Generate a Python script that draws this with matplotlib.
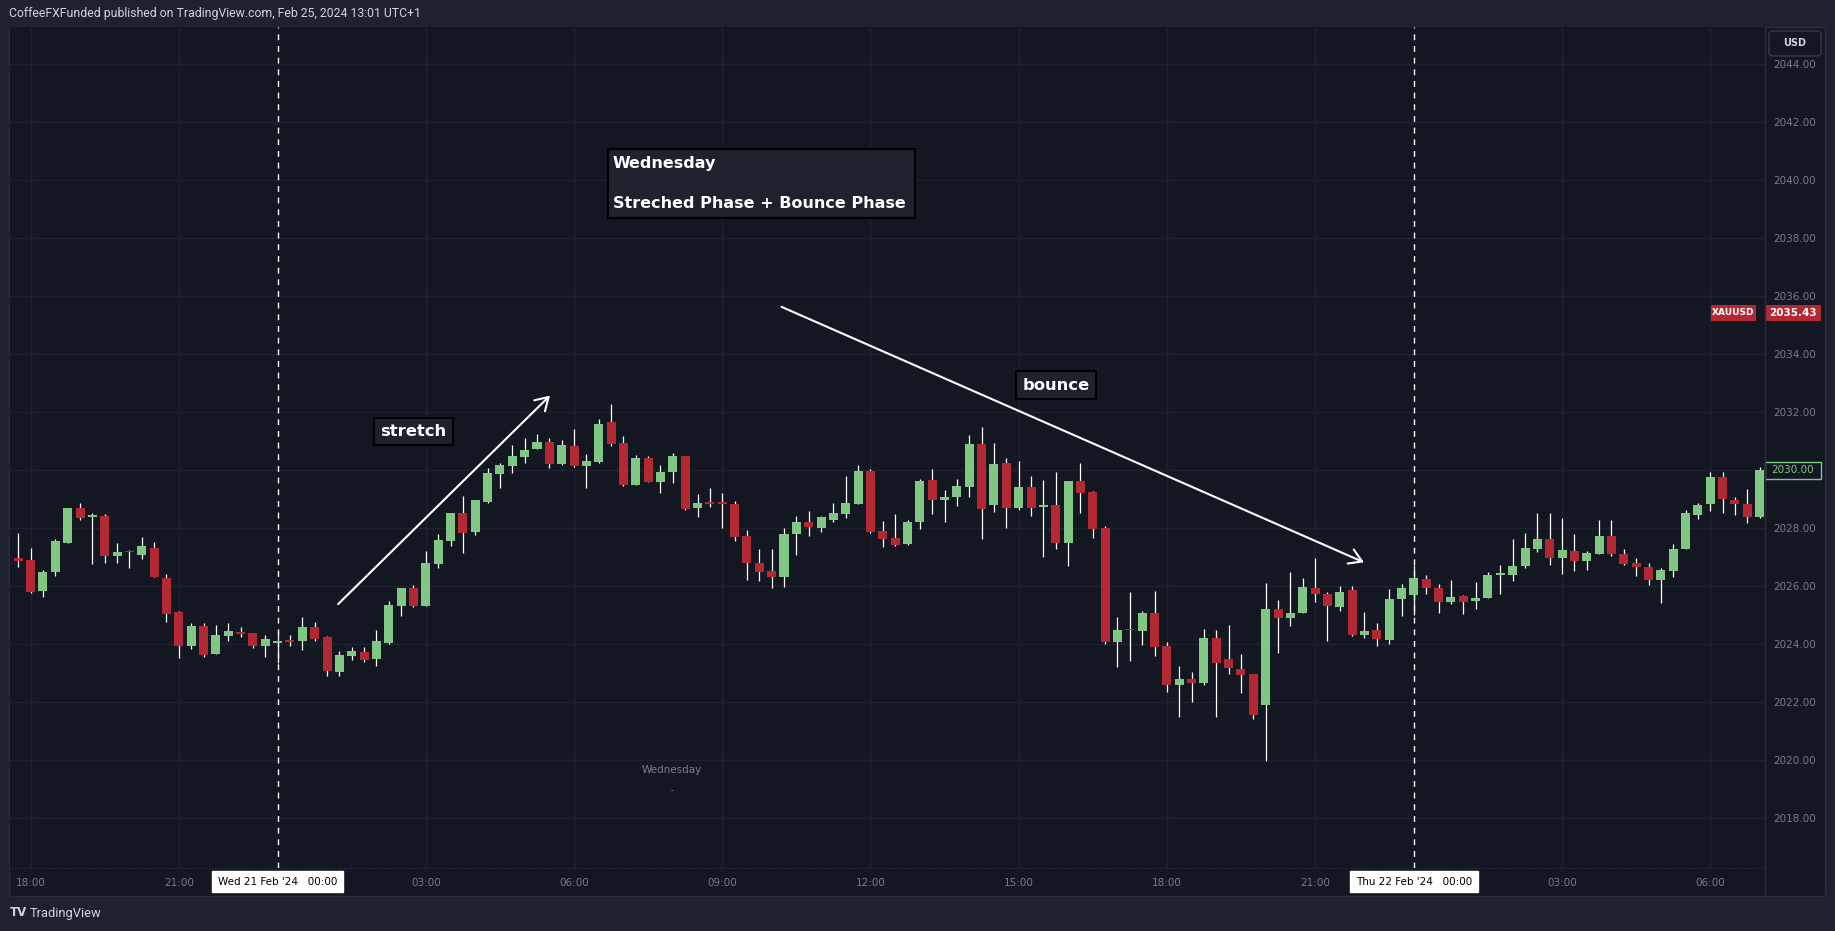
import matplotlib.pyplot as plt
from matplotlib.patches import Rectangle, FancyArrowPatch, FancyBboxPatch
from matplotlib.transforms import blended_transform_factory

# XAUUSD 15m, 20 Feb 17:45 -> 22 Feb 07:00 (bar index 0..141)
opens = [2026.98, 2026.91, 2025.84, 2026.49, 2027.49, 2028.70, 2028.40, 2028.43, 2027.06, 2027.22,
         2027.08, 2027.32, 2026.29, 2025.11, 2023.95, 2024.63, 2023.68, 2024.30, 2024.43, 2024.39,
         2023.95, 2024.06, 2024.15, 2024.13, 2024.60, 2024.25, 2023.06, 2023.60, 2023.74, 2023.51,
         2024.06, 2025.33, 2025.94, 2025.33, 2026.78, 2027.57, 2028.53, 2027.89, 2028.92, 2029.89,
         2030.16, 2030.47, 2030.75, 2030.98, 2030.23, 2030.84, 2030.16, 2030.30, 2031.67, 2030.94,
         2029.49, 2030.43, 2029.60, 2029.94, 2030.49, 2028.70, 2028.87, 2028.87, 2028.84, 2027.74,
         2026.80, 2026.53, 2026.32, 2027.80, 2028.22, 2028.01, 2028.29, 2028.49, 2028.84, 2029.98,
         2027.91, 2027.67, 2027.46, 2028.22, 2029.67, 2028.98, 2029.08, 2029.43, 2030.91, 2028.80,
         2030.25, 2028.70, 2029.43, 2028.75, 2028.80, 2027.49, 2029.63, 2029.25, 2028.01, 2024.08,
         2024.50, 2024.47, 2025.08, 2023.94, 2022.61, 2022.80, 2022.67, 2024.22, 2023.49, 2023.15,
         2022.98, 2021.92, 2025.22, 2024.91, 2025.08, 2025.94, 2025.74, 2025.29, 2025.87, 2024.32,
         2024.49, 2024.15, 2025.56, 2025.70, 2026.25, 2025.94, 2025.46, 2025.67, 2025.49, 2025.60,
         2026.40, 2026.39, 2026.70, 2027.29, 2027.63, 2026.98, 2027.22, 2026.87, 2027.11, 2027.74,
         2027.11, 2026.80, 2026.67, 2026.22, 2026.53, 2027.29, 2028.46, 2028.84, 2029.77, 2028.98,
         2028.84, 2028.39]
highs = [2027.84, 2027.32, 2026.56, 2027.63, 2028.70, 2028.87, 2028.53, 2028.49, 2027.49, 2027.25,
         2027.70, 2027.53, 2026.43, 2025.15, 2024.74, 2024.74, 2024.67, 2024.74, 2024.60, 2024.39,
         2024.32, 2024.46, 2024.32, 2024.94, 2024.77, 2024.29, 2023.77, 2023.91, 2023.91, 2024.49,
         2025.49, 2025.94, 2026.05, 2027.22, 2027.80, 2028.53, 2029.11, 2028.98, 2030.08, 2030.25,
         2030.87, 2031.11, 2031.25, 2031.11, 2031.05, 2031.43, 2030.56, 2031.77, 2032.29, 2031.18,
         2030.53, 2030.49, 2030.18, 2030.60, 2030.49, 2029.18, 2029.39, 2029.22, 2028.94, 2027.94,
         2027.29, 2027.29, 2028.01, 2028.43, 2028.60, 2028.43, 2028.87, 2029.80, 2030.18, 2030.05,
         2028.25, 2028.49, 2028.29, 2029.70, 2030.05, 2029.32, 2029.70, 2031.22, 2031.49, 2030.94,
         2030.43, 2030.32, 2029.80, 2029.67, 2029.94, 2029.63, 2030.25, 2029.29, 2028.08, 2024.94,
         2025.80, 2025.15, 2025.84, 2024.08, 2023.25, 2023.06, 2024.53, 2024.49, 2024.67, 2023.67,
         2022.98, 2026.11, 2025.53, 2026.49, 2026.29, 2026.98, 2025.80, 2026.01, 2026.01, 2025.11,
         2024.74, 2025.91, 2026.08, 2026.74, 2026.39, 2026.08, 2026.22, 2025.70, 2026.15, 2026.49,
         2026.74, 2027.63, 2027.84, 2028.53, 2028.53, 2028.36, 2027.80, 2027.22, 2028.29, 2028.29,
         2027.29, 2026.98, 2026.80, 2026.63, 2027.46, 2028.63, 2028.87, 2029.94, 2029.94, 2029.08,
         2029.36, 2030.11]
lows = [2026.68, 2025.78, 2025.64, 2026.36, 2027.49, 2028.29, 2026.77, 2026.80, 2026.80, 2026.63,
        2026.94, 2026.32, 2024.77, 2023.54, 2023.85, 2023.57, 2023.68, 2024.13, 2024.25, 2023.89,
        2023.57, 2023.37, 2023.95, 2023.82, 2024.13, 2022.92, 2022.92, 2023.47, 2023.40, 2023.26,
        2024.02, 2024.99, 2025.30, 2025.33, 2026.64, 2027.40, 2027.16, 2027.78, 2028.89, 2029.40,
        2029.92, 2030.26, 2030.75, 2030.09, 2030.20, 2030.13, 2029.40, 2030.26, 2030.85, 2029.46,
        2029.49, 2029.60, 2029.22, 2029.56, 2028.63, 2028.39, 2028.74, 2028.01, 2027.56, 2026.22,
        2026.18, 2025.94, 2025.98, 2027.08, 2027.74, 2027.87, 2028.22, 2028.36, 2028.84, 2027.84,
        2027.36, 2027.39, 2027.43, 2027.98, 2028.49, 2028.22, 2028.77, 2029.08, 2027.63, 2028.56,
        2028.01, 2028.63, 2028.43, 2027.01, 2027.29, 2026.70, 2028.53, 2027.67, 2024.02, 2023.23,
        2023.44, 2023.98, 2023.61, 2022.37, 2021.51, 2022.02, 2022.60, 2021.51, 2022.99, 2022.33,
        2021.44, 2019.99, 2023.71, 2024.63, 2025.08, 2025.46, 2024.11, 2025.15, 2024.29, 2024.22,
        2023.94, 2024.01, 2024.98, 2025.01, 2025.74, 2025.08, 2025.39, 2025.05, 2025.22, 2025.60,
        2025.74, 2026.18, 2026.63, 2027.18, 2026.74, 2026.43, 2026.53, 2026.56, 2027.11, 2027.05,
        2026.74, 2026.36, 2026.05, 2025.43, 2026.32, 2027.29, 2028.32, 2028.60, 2028.53, 2028.46,
        2028.18, 2028.36]
closes = [2026.89, 2025.80, 2026.49, 2027.56, 2028.70, 2028.37, 2028.42, 2027.06, 2027.18, 2027.18,
          2027.39, 2026.32, 2025.06, 2023.95, 2024.63, 2023.64, 2024.32, 2024.46, 2024.37, 2023.95,
          2024.18, 2024.11, 2024.09, 2024.60, 2024.20, 2023.09, 2023.63, 2023.77, 2023.47, 2024.11,
          2025.36, 2025.94, 2025.33, 2026.80, 2027.60, 2028.53, 2027.85, 2028.98, 2029.91, 2030.18,
          2030.49, 2030.70, 2030.98, 2030.23, 2030.87, 2030.16, 2030.32, 2031.60, 2030.92, 2029.49,
          2030.43, 2029.60, 2029.94, 2030.49, 2028.67, 2028.87, 2028.85, 2028.85, 2027.70, 2026.80,
          2026.49, 2026.32, 2027.80, 2028.22, 2028.05, 2028.39, 2028.53, 2028.87, 2029.98, 2027.87,
          2027.63, 2027.43, 2028.22, 2029.63, 2028.98, 2029.08, 2029.46, 2030.91, 2028.67, 2030.22,
          2028.70, 2029.43, 2028.70, 2028.77, 2027.49, 2029.63, 2029.22, 2027.98, 2024.08, 2024.49,
          2024.48, 2025.08, 2023.92, 2022.61, 2022.80, 2022.67, 2024.22, 2023.37, 2023.20, 2022.95,
          2021.57, 2025.22, 2024.91, 2025.08, 2025.98, 2025.74, 2025.32, 2025.80, 2024.32, 2024.46,
          2024.18, 2025.56, 2025.94, 2026.29, 2025.94, 2025.46, 2025.63, 2025.46, 2025.60, 2026.39,
          2026.43, 2026.70, 2027.32, 2027.63, 2026.98, 2027.25, 2026.87, 2027.15, 2027.74, 2027.11,
          2026.77, 2026.67, 2026.22, 2026.56, 2027.29, 2028.53, 2028.80, 2029.77, 2029.01, 2028.84,
          2028.39, 2030.00]

tick_pos = [1, 13, 33, 45, 57, 69, 81, 93, 105, 125, 137]
tick_labels = ['18:00', '21:00', '03:00', '06:00', '09:00', '12:00', '15:00', '18:00', '21:00', '03:00', '06:00']
day_pos = [21, 113]
day_labels = ["Wed 21 Feb '24   00:00", "Thu 22 Feb '24   00:00"]
price_ticks = [2018, 2020, 2022, 2024, 2026, 2028, 2030, 2032, 2034, 2036, 2038, 2040, 2042, 2044]

other_price = 2035.43   # XAUUSD tag on the scale
last_price = closes[-1]

# drawings (bar index, price)
stretch_arrow = [(25.9, 2025.39), (43.05, 2032.58)]
bounce_arrow = [(61.8, 2035.64), (108.96, 2026.83)]
stretch_label = (32.0, 2031.34)
bounce_label = (84.0, 2032.94)
note_corner = (47.75, 2038.70)
note_size = (24.85, 2.38)
note_lines = ['Wednesday', 'Streched Phase + Bounce Phase']
session_label = (52.9, 2019.67)

BG = '#131722'
FRAME = '#1e222d'
GRID = '#1e2230'
TXT = '#787b86'
UP = '#81c784'
DOWN = '#b22833'

W, H = 1835, 931
fig = plt.figure(figsize=(W / 100, H / 100), dpi=100)
fig.patch.set_facecolor(FRAME)

# chart panel
fig.add_artist(Rectangle((9 / W, 1 - 896 / H), 1816 / W, 869 / H, transform=fig.transFigure,
                         fc=BG, ec='#2a2e39', lw=1, zorder=0))

ax = fig.add_axes([10 / W, 1 - 868 / H, 1755 / W, 841 / H])
ax.set_facecolor(BG)
ax.set_xlim(-0.67, 141.43)
ax.set_ylim(2016.29, 2045.29)
for s in ax.spines.values():
    s.set_visible(False)

ax.set_yticks(price_ticks)
ax.set_yticklabels(['%.2f' % p for p in price_ticks])
ax.yaxis.tick_right()
ax.set_xticks(tick_pos)
ax.set_xticklabels(tick_labels)
ax.tick_params(axis='y', length=0, pad=6, labelsize=7.5, labelcolor=TXT)
ax.tick_params(axis='x', length=0, pad=7, labelsize=7.5, labelcolor=TXT)
ax.grid(True, color=GRID, lw=1)
ax.set_axisbelow(True)

# candles
x = list(range(len(opens)))
colors = [UP if c >= o else DOWN for o, c in zip(opens, closes)]
bottoms = [min(o, c) for o, c in zip(opens, closes)]
heights = [max(abs(c - o), 0.05) for o, c in zip(opens, closes)]
ax.vlines(x, lows, highs, color='white', lw=0.9, zorder=2)
ax.bar(x, heights, bottom=bottoms, width=0.73, color=colors, zorder=3)

# session breaks
for p, lab in zip(day_pos, day_labels):
    ax.axvline(p, color='white', lw=1, ls=(0, (4.2, 4.2)), zorder=1)
    ax.text(p, -0.0163, lab, transform=blended_transform_factory(ax.transData, ax.transAxes),
            ha='center', va='center', fontsize=7.5, color='black', clip_on=False,
            bbox=dict(boxstyle='square,pad=0.55', fc='white', ec='white'))

# arrows
for a in (stretch_arrow, bounce_arrow):
    ax.add_patch(FancyArrowPatch(a[0], a[1], arrowstyle='->,head_length=0.9,head_width=0.55',
                                 mutation_scale=10, color='white', lw=1.5, shrinkA=0, shrinkB=0,
                                 zorder=6))

box = dict(boxstyle='square,pad=0.38', fc='#1e222d', ec='black', lw=1.5)
ax.text(stretch_label[0], stretch_label[1], 'stretch', ha='center', va='center',
        fontsize=11.8, fontweight='bold', color='white', bbox=box, zorder=7)
ax.text(bounce_label[0], bounce_label[1], 'bounce', ha='center', va='center',
        fontsize=11.8, fontweight='bold', color='white', bbox=box, zorder=7)

ax.add_patch(Rectangle(note_corner, note_size[0], note_size[1], fc='#1e222d', ec='black',
                       lw=1.5, zorder=7))
ax.text(note_corner[0] + 0.4, note_corner[1] + note_size[1] * 0.79, note_lines[0],
        ha='left', va='center', fontsize=11.5, fontweight='bold', color='white', zorder=8)
ax.text(note_corner[0] + 0.4, note_corner[1] + note_size[1] * 0.21, note_lines[1],
        ha='left', va='center', fontsize=11.5, fontweight='bold', color='white', zorder=8)

ax.text(session_label[0], session_label[1], 'Wednesday', ha='center', va='center',
        fontsize=7.5, color=TXT)
ax.text(session_label[0], session_label[1] - 0.7, '-', ha='center', va='center',
        fontsize=6, color=TXT)

# price scale tags
bt = blended_transform_factory(fig.transFigure, ax.transData)
ax.add_patch(Rectangle((1711 / W, other_price - 0.29), 45 / W, 0.58, transform=bt,
                       fc=DOWN, ec='none', clip_on=False, zorder=8))
ax.text(1733.5 / W, other_price, 'XAUUSD', transform=bt, ha='center', va='center',
        fontsize=6.5, fontweight='bold', color='white', clip_on=False, zorder=9)
ax.add_patch(Rectangle((1765 / W, other_price - 0.29), 56 / W, 0.58, transform=bt,
                       fc=DOWN, ec='none', clip_on=False, zorder=8))
ax.text(1793 / W, other_price, '%.2f' % other_price, transform=bt, ha='center', va='center',
        fontsize=7.5, fontweight='bold', color='white', clip_on=False, zorder=9)
ax.add_patch(Rectangle((1765 / W, last_price - 0.28), 56 / W, 0.56, transform=bt,
                       fc=BG, ec=UP, lw=1, clip_on=False, zorder=8))
ax.text(1793 / W, last_price, '%.2f' % last_price, transform=bt, ha='center', va='center',
        fontsize=7.5, color=UP, clip_on=False, zorder=9)

# axis separators
fig.add_artist(plt.Line2D([1765 / W, 1765 / W], [1 - 896 / H, 1 - 27 / H], color='#2a2e39', lw=1))
fig.add_artist(plt.Line2D([10 / W, 1765 / W], [1 - 868 / H, 1 - 868 / H], color='#2a2e39', lw=0.8,
                          ls=(0, (1, 1))))

# USD button
fig.add_artist(FancyBboxPatch((1769 / W, 1 - 56 / H), 52 / W, 25 / H, transform=fig.transFigure,
                              boxstyle='round,pad=0,rounding_size=0.003', fc=BG, ec='#363a45',
                              lw=1, zorder=5))
fig.text(1795 / W, 1 - 43.5 / H, 'USD', ha='center', va='center', fontsize=7,
         fontweight='bold', color='#d1d4dc', zorder=6)

fig.text(9 / W, 1 - 14 / H, 'CoffeeFXFunded published on TradingView.com, Feb 25, 2024 13:01 UTC+1',
         ha='left', va='center', fontsize=8.8, color='#d1d4dc', family='Roboto')
fig.text(10 / W, 1 - 913 / H, 'TV', ha='left', va='center', fontsize=8.5, fontweight='heavy',
         color='#d1d4dc')
fig.text(30 / W, 1 - 913 / H, 'TradingView', ha='left', va='center', fontsize=9.3,
         color='#d1d4dc', family='Roboto')

fig.savefig('out.png', dpi=100, facecolor=fig.get_facecolor())
